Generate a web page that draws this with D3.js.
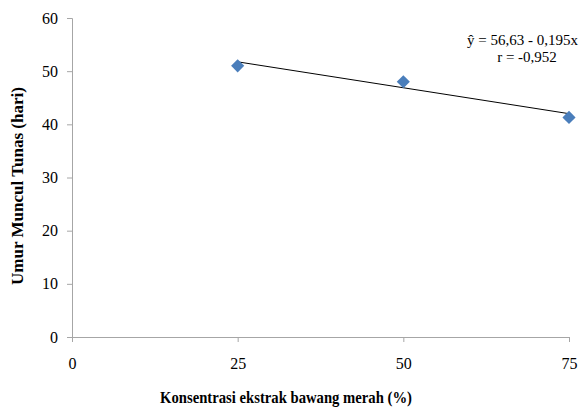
<!DOCTYPE html>
<html><head><meta charset="utf-8">
<script src="https://cdn.jsdelivr.net/npm/d3@7"></script>
<style>body{margin:0;background:#fff}svg{display:block}text{font-family:"Times New Roman","Liberation Serif","DejaVu Serif",serif}</style>
</head><body>
<script>
const xValues = [25, 50, 75];
const yValues = [51.0, 48.0, 41.3];
const xTicks = [0, 25, 50, 75];
const yTicks = [0, 10, 20, 30, 40, 50, 60];
const intercept = 56.63, slope = -0.195;
const eqLabel = "ŷ =  56,63 - 0,195x";
const rLabel = "r = -0,952";
const xTitle = "Konsentrasi ekstrak bawang merah (%)";
const yTitle = "Umur Muncul Tunas (hari)";

const W = 584, H = 407;
const svg = d3.select("body").append("svg").attr("width", W).attr("height", H);
const x = d3.scaleLinear().domain([0, 75]).range([72, 569]);
const y = d3.scaleLinear().domain([0, 60]).range([337, 18]);
const axisColor = "#a6a6a6";

const yAxis = svg.append("g").attr("transform", `translate(${x(0)},0)`)
  .call(d3.axisLeft(y).tickValues(yTicks).tickSize(5).tickPadding(9));
const xAxis = svg.append("g").attr("transform", `translate(0,${y(0)})`)
  .call(d3.axisBottom(x).tickValues(xTicks).tickSize(5).tickPadding(16));
[xAxis, yAxis].forEach(g => {
  g.attr("font-family", null);
  g.selectAll("path,line").attr("stroke", axisColor);
  g.selectAll("text").attr("font-size", 16).attr("fill", "#000");
});

// trend line
svg.append("line")
  .attr("x1", x(25)).attr("y1", y(intercept + slope * 25))
  .attr("x2", x(75)).attr("y2", y(intercept + slope * 75))
  .attr("stroke", "#000").attr("stroke-width", 1);

// markers
svg.selectAll("path.pt").data(xValues).join("path").attr("class", "pt")
  .attr("d", d3.symbol().type(d3.symbolDiamond2 || d3.symbolDiamond).size(110))
  .attr("transform", (d, i) => `translate(${x(d)},${y(yValues[i])})`)
  .attr("fill", "#4a7ebb");

// equation
svg.append("text").attr("x", 578).attr("y", 45).attr("text-anchor", "end")
  .attr("font-size", 15).text(eqLabel);
svg.append("text").attr("x", 527).attr("y", 62).attr("text-anchor", "middle")
  .attr("font-size", 15).text(rLabel);

// titles
svg.append("text").attr("x", 286).attr("y", 403).attr("text-anchor", "middle")
  .attr("font-size", 16).attr("font-weight", "bold")
  .attr("textLength", 252).attr("lengthAdjust", "spacingAndGlyphs").text(xTitle);
svg.append("text").attr("transform", `translate(23,186) rotate(-90)`).attr("text-anchor", "middle")
  .attr("font-size", 16).attr("font-weight", "bold")
  .attr("textLength", 198).attr("lengthAdjust", "spacingAndGlyphs").text(yTitle);
</script>
</body></html>
